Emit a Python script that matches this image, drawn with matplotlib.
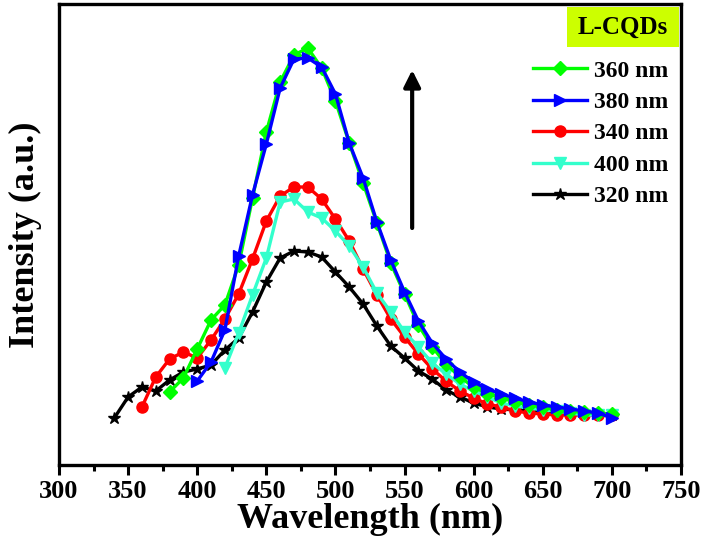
import matplotlib
matplotlib.use("Agg")
import matplotlib.pyplot as plt
from matplotlib.lines import Line2D
from matplotlib.patches import Rectangle
from matplotlib.ticker import MultipleLocator

plt.rcParams['font.family'] = ['Liberation Serif', 'DejaVu Serif']
plt.rcParams['font.weight'] = 'bold'

# wavelengths (nm)
wl_320 = list(range(340, 701, 10))
wl_340 = list(range(360, 701, 10))
wl_400 = list(range(420, 701, 10))
wl_360 = list(range(380, 701, 10))
wl_380 = list(range(400, 701, 10))

# intensities (a.u.)
int_320 = [47, 68, 78, 74, 85, 93, 96, 100, 115, 127, 153, 183, 207, 214, 213, 208,
           193, 178, 161, 139, 119, 107, 94, 86, 75, 68, 62, 58, 56, 55, 54, 53, 53,
           52, 52, 51, 50]
int_340 = [58, 88, 106, 113, 107, 125, 146, 171, 206, 244, 269, 278, 278, 266, 246,
           224, 196, 170, 146, 128, 111, 96, 84, 74, 67, 61, 58, 54, 52, 51, 50, 50,
           50, 50, 50]
int_400 = [97, 132, 170, 207, 263, 266, 253, 247, 234, 219, 198, 172, 153, 133, 118,
           102, 91, 81, 74, 68, 62, 59, 57, 55, 54, 52, 50, 50, 50]
int_360 = [73, 87, 116, 145, 160, 200, 267, 333, 383, 410, 417, 397, 364, 322, 282,
           242, 202, 171, 140, 118, 101, 88, 78, 71, 67, 63, 60, 58, 55, 54, 53, 52, 51]
int_380 = [84, 103, 135, 209, 270, 321, 377, 406, 407, 398, 371, 322, 287, 243, 205,
           173, 144, 122, 106, 93, 83, 76, 71, 67, 63, 60, 58, 56, 54, 52, 47]

labels = ['360 nm', '380 nm', '340 nm', '400 nm', '320 nm']
colors = {'320 nm': '#000000', '340 nm': '#FF0000', '400 nm': '#33FFCC',
          '360 nm': '#00FF00', '380 nm': '#0000FF'}
markers = {'320 nm': '*', '340 nm': 'o', '400 nm': 'v', '360 nm': 'D', '380 nm': '>'}
msizes = {'320 nm': 9, '340 nm': 8, '400 nm': 9, '360 nm': 7, '380 nm': 9}
series = {'320 nm': (wl_320, int_320), '340 nm': (wl_340, int_340),
          '400 nm': (wl_400, int_400), '360 nm': (wl_360, int_360),
          '380 nm': (wl_380, int_380)}

fig = plt.figure(figsize=(7.08, 5.48), dpi=100)
ax = fig.add_axes([59/708, 1-465/548, 622/708, 461/548])

handles = {}
for name in ['320 nm', '340 nm', '400 nm', '360 nm', '380 nm']:
    x, y = series[name]
    h, = ax.plot(x, y, color=colors[name], marker=markers[name], ms=msizes[name],
                 lw=2.4, mec=colors[name])
    handles[name] = h

ax.set_xlim(300, 750)
ax.set_ylim(0, 461)
ax.xaxis.set_major_locator(MultipleLocator(50))
ax.xaxis.set_minor_locator(MultipleLocator(25))
ax.tick_params(axis='x', which='major', direction='out', length=7, width=2.2,
               labelsize=19, pad=4)
ax.tick_params(axis='x', which='minor', direction='out', length=4, width=2.2)
ax.set_yticks([])
for s in ax.spines.values():
    s.set_linewidth(2.4)
for lab in ax.get_xticklabels():
    lab.set_fontweight('bold')

ax.set_xlabel('Wavelength (nm)', fontsize=26, fontweight='bold', labelpad=0)
ax.set_ylabel('Intensity (a.u.)', fontsize=26, fontweight='bold', labelpad=12)

ax.annotate('', xy=(555.5, 395), xytext=(555.5, 237),
            arrowprops=dict(arrowstyle='-|>', lw=3, color='black', mutation_scale=25,
                            shrinkA=0, shrinkB=0))

leg = fig.legend([handles[n] for n in labels], labels, loc='upper left',
                 bbox_to_anchor=(533/708, 1-60/548), frameon=False,
                 prop=dict(family='Liberation Serif', weight='bold', size=17),
                 handlelength=2.3, handletextpad=0.3, labelspacing=0.42,
                 borderpad=0, borderaxespad=0)

fig.patches.append(Rectangle((567/708, 1-47/548), 112/708, 40/548,
                             transform=fig.transFigure, facecolor='#CCFF00',
                             edgecolor='none', zorder=5))
fig.text(623/708, 1-27/548, 'L-CQDs', ha='center', va='center', fontsize=18,
         fontweight='bold', zorder=6)

fig.savefig('out.png', dpi=100)
